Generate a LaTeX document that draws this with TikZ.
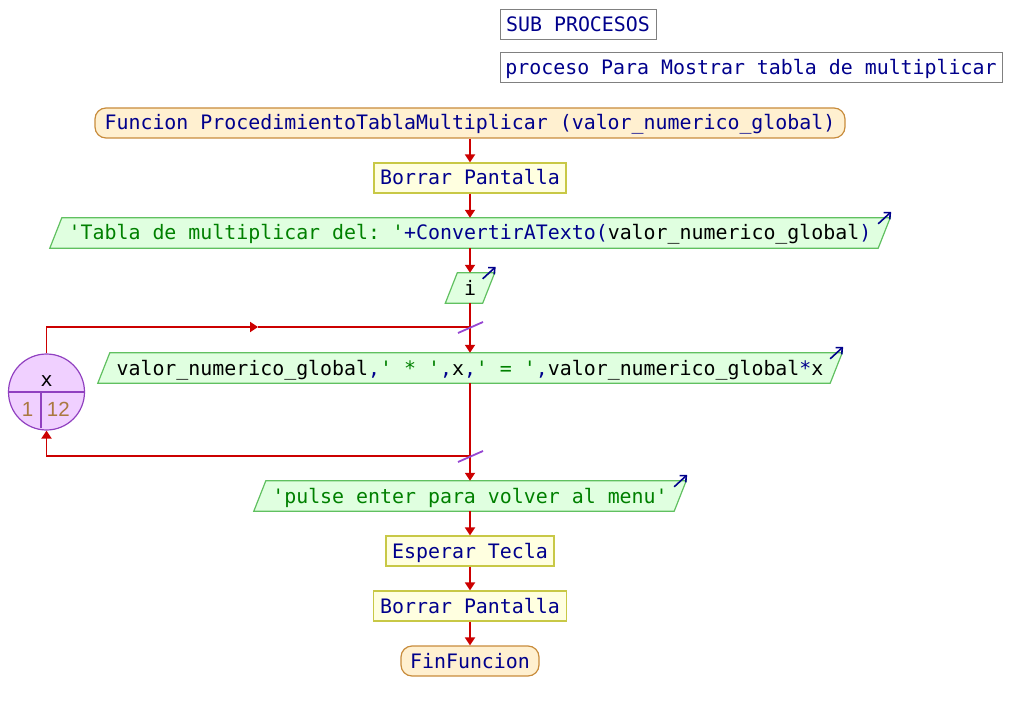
\documentclass[tikz,border=0pt]{standalone}
\usepackage{fontspec}
\setmonofont{DejaVu Sans Mono}
\newfontfamily\numfont{Liberation Sans}
\usetikzlibrary{arrows.meta,backgrounds,calc}
\definecolor{kw}{RGB}{0,0,140}
\definecolor{str}{RGB}{0,128,0}
\definecolor{flowred}{RGB}{204,0,0}
\definecolor{termfill}{RGB}{255,240,208}
\definecolor{termdraw}{RGB}{200,140,60}
\definecolor{procfill}{RGB}{255,255,224}
\definecolor{procdraw}{RGB}{200,200,70}
\definecolor{iofill}{RGB}{224,255,224}
\definecolor{iodraw}{RGB}{96,192,96}
\definecolor{loopfill}{RGB}{240,208,255}
\definecolor{loopdraw}{RGB}{144,64,192}
\definecolor{slashc}{RGB}{150,70,210}
\definecolor{numc}{RGB}{170,120,64}
\definecolor{hdrdraw}{RGB}{128,128,128}
\newcommand\ioframe[1]{%
  \begin{pgfonlayer}{background}
    \draw[ioshape] ([xshift=-6pt]#1.south west) -- ([xshift=6pt]#1.north west) -- ([xshift=6pt]#1.north east) -- ([xshift=-6pt]#1.south east) -- cycle;
  \end{pgfonlayer}
  \draw[echo] ([shift={(-6pt,-6pt)}]#1.north east) -- ([shift={(7pt,6pt)}]#1.north east);}
\begin{document}
\begin{tikzpicture}[x=1pt,y=-1pt,
  base/.style={font=\ttfamily\fontsize{19.9}{24}\selectfont, inner sep=0pt, text height=17pt, text depth=3pt, minimum height=30pt},
  hdr/.style={base, draw=hdrdraw, fill=white, line width=1pt, text=kw},
  term/.style={base, draw=termdraw, fill=termfill, line width=1.2pt, rounded corners=11pt, text=kw},
  proc/.style={base, draw=procdraw, fill=procfill, line width=1.2pt, text=kw},
  io/.style={base, text=kw},
  ioshape/.style={draw=iodraw, fill=iofill, line width=1.2pt},
  echo/.style={draw=kw, line width=1.6pt, -{Straight Barb[length=5pt,width=9pt]}},
  flow/.style={draw=flowred, line width=1.8pt},
  flowarrow/.style={flow, -{Triangle[length=8pt,width=10pt]}},
  slash/.style={draw=slashc, line width=1.8pt},
  loopc/.style={circle, draw=loopdraw, fill=loopfill, line width=1.2pt, minimum size=76pt, inner sep=0pt},
  loopline/.style={draw=loopdraw, line width=1.2pt},
  looptxt/.style={font=\ttfamily\fontsize{19.9}{24}\selectfont, inner sep=0pt},
  numtxt/.style={font=\numfont\fontsize{20.5}{24}\selectfont, text=numc, inner sep=0pt}
]
\useasboundingbox (0,0) rectangle (1014,711);

\node[hdr, minimum width=156pt] (h1) at (578,25) {SUB PROCESOS};
\node[hdr, minimum width=502pt] (h2) at (751,68) {proceso Para Mostrar tabla de multiplicar};

\node[term, minimum width=750pt] (func) at (470,123) {Funcion ProcedimientoTablaMultiplicar (valor\_numerico\_global)};
\node[proc, minimum width=192pt] (b1) at (470,178) {Borrar Pantalla};
\node[io, minimum width=828pt] (o1) at (470,233) {\textcolor{str}{'Tabla de multiplicar del: '}+ConvertirATexto(\textcolor{black}{valor\_numerico\_global})};
\ioframe{o1}
\node[io, minimum width=37pt] (iin) at (470,288) {\textcolor{black}{i}};
\ioframe{iin}
\node[io, minimum width=732pt] (pr) at (470,368) {\textcolor{black}{valor\_numerico\_global},\textcolor{str}{' * '},\textcolor{black}{x},\textcolor{str}{' = '},\textcolor{black}{valor\_numerico\_global}*\textcolor{black}{x}};
\ioframe{pr}
\node[io, minimum width=420pt] (pu) at (470,496) {\textcolor{str}{'pulse enter para volver al menu'}};
\ioframe{pu}
\node[proc, minimum width=168pt] (esp) at (470,551) {Esperar Tecla};
\node[proc, minimum width=193pt] (b2) at (470,606) {Borrar Pantalla};
\node[term, minimum width=138pt] (fin) at (470,661) {FinFuncion};

% loop counter
\node[loopc] (loop) at (46.5,392) {};
\draw[loopline] (loop.west) -- (loop.east);
\draw[loopline] (41,392) -- (41,428);
\node[looptxt] (lx) at (46.5,381) {x};
\node[numtxt] (lfrom) at (27.5,409) {1};
\node[numtxt] (lto) at (58.3,409) {12};

\coordinate (jt) at (470,327);
\coordinate (jb) at (470,456);
\coordinate (lmid) at (258,327);

\draw[flowarrow] (func) -- (b1);
\draw[flowarrow] (b1) -- (o1);
\draw[flowarrow] (o1) -- (iin);
\draw[flow] (iin) -- (jt);
\draw[flowarrow] (jt) -- (pr);
\draw[flowarrow] (loop.north) |- (lmid);
\draw[flow] (lmid) -- (jt);
\draw[flow] (pr) -- (jb);
\draw[flowarrow] (jb) -- (pu);
\draw[flowarrow] (jb) -| (loop.south);
\draw[flowarrow] (pu) -- (esp);
\draw[flowarrow] (esp) -- (b2);
\draw[flowarrow] (b2) -- (fin);

\draw[slash] ([shift={(-12pt,-6pt)}]jt) -- ([shift={(13pt,5pt)}]jt);
\draw[slash] ([shift={(-12pt,-6pt)}]jb) -- ([shift={(13pt,5pt)}]jb);
\end{tikzpicture}
\end{document}
